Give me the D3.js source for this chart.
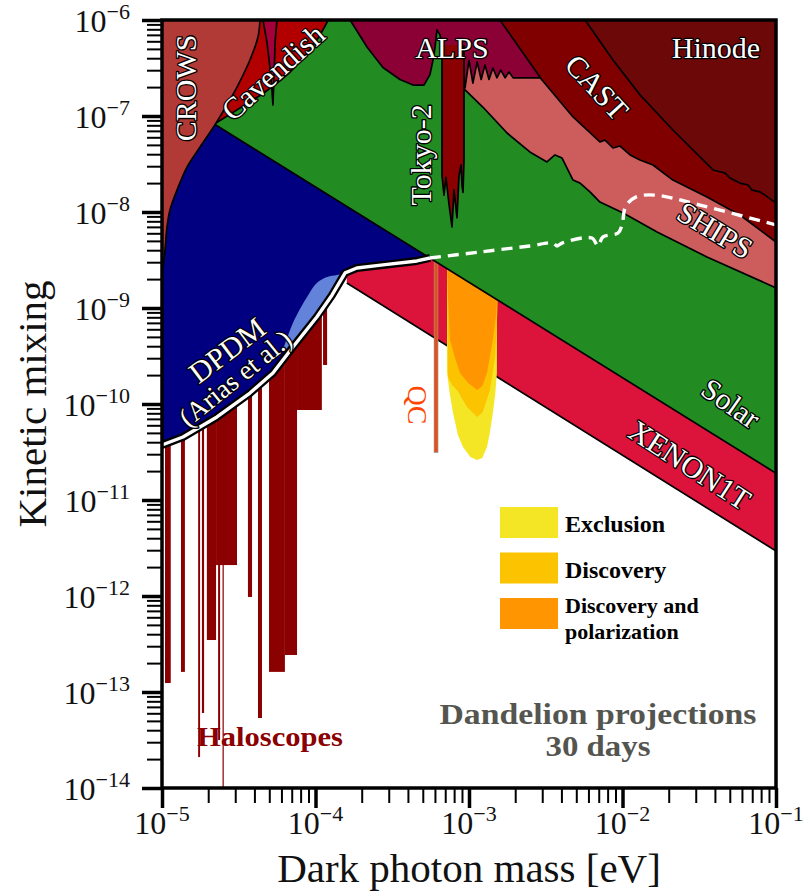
<!DOCTYPE html>
<html><head><meta charset="utf-8">
<script src="https://cdn.jsdelivr.net/npm/d3@7"></script>
<style>
html,body{margin:0;padding:0;background:#fff;}
svg{display:block;}
text{font-family:"Liberation Serif","Times New Roman",serif;}
.lab{fill:#fff;stroke:#000;stroke-width:2.6px;paint-order:stroke;stroke-linejoin:round;}
</style></head><body>
<svg id="chart" width="808" height="895"></svg>
<script>
// ---------------- data (mass [eV], kinetic mixing) ----------------
const solarLimit = [[1e-5,1.8e-7],[1e-1,1.9e-11]];
const xenonLimit = [[1.6e-4,1.82e-9],[1e-1,2.94e-12]];
const dpdmLimit = [[1e-5,3.74e-11],[1.37e-5,4.53e-11],[2.28e-5,7.33e-11],[3.74e-5,1.30e-10],[5.28e-5,2.10e-10],
  [7.13e-5,3.93e-10],[1.02e-4,8.05e-10],[1.28e-4,1.36e-9],[1.56e-4,2.32e-9],[1.86e-4,2.61e-9],[2.75e-4,2.81e-9],
  [4.58e-4,3.09e-9],[5.57e-4,3.32e-9]];
const dpdmProjection = [[5.57e-4,3.32e-9],[1.18e-3,3.83e-9],[2.49e-3,4.43e-9],[3.52e-3,4.75e-9],[3.74e-3,4.43e-9],
  [4.04e-3,4.75e-9],[6.32e-3,5.36e-9],[6.92e-3,4.43e-9],[7.46e-3,5.50e-9],[9.35e-3,6.04e-9],[9.93e-3,7.33e-9],
  [1.05e-2,1.15e-8],[1.22e-2,1.43e-8],[1.63e-2,1.50e-8],[3.20e-2,1.18e-8],[1e-1,7.33e-9]];
const lightBlueEdge = [[6.14e-5,3.65e-10],[7.13e-5,6.98e-10],[8.81e-5,1.30e-9],[1.02e-4,1.82e-9],[1.19e-4,2.10e-9],
  [1.38e-4,2.21e-9],[1.56e-4,2.32e-9]];
const crowsLimit = [[1.015e-5,2.61e-9],[1.046e-5,4.02e-9],[1.078e-5,6.98e-9],[1.127e-5,1.05e-8],[1.252e-5,1.69e-8],
  [1.455e-5,2.94e-8],[1.77e-5,4.75e-8],[2.21e-5,8.05e-8],[2.69e-5,1.36e-7],[3.08e-5,2.0e-7],[3.74e-5,3.83e-7],
  [4.22e-5,6.65e-7],[4.35e-5,1e-6]];
const cavendishLimit = [[2.25e-5,8.45e-8],[3.22e-5,1.21e-7],[4.69e-5,1.78e-7],[6.82e-5,2.87e-7],[8.81e-5,4.53e-7],
  [1.04e-4,6.49e-7],[1.21e-4,1e-6]];
const spikeLimit = [[4.55e-5,1e-6],[4.83e-5,5.8e-7],[5.13e-5,2.6e-7],[5.28e-5,1.3e-7],[5.37e-5,2.6e-7],
  [5.45e-5,5.8e-7],[5.61e-5,1e-6]];
const alpsLimit = [[1.68e-4,1e-6],[2.17e-4,5.2e-7],[2.75e-4,3.2e-7],[3.55e-4,2.4e-7],[4.32e-4,2.1e-7],[5.09e-4,2.1e-7],
  [5.57e-4,2.7e-7],[5.92e-4,4.3e-7],[6.19e-4,7.9e-7],[6.47e-4,7.0e-7],[6.98e-4,3.4e-7],[7.41e-4,1.96e-7],
  [7.87e-4,3.8e-7],[8.35e-4,2.1e-7],[8.87e-4,4.3e-7],[9.42e-4,1.96e-7],[1.00e-3,3.8e-7],[1.06e-3,2.2e-7],
  [1.13e-3,3.65e-7],[1.20e-3,2.4e-7],[1.27e-3,3.4e-7],[1.35e-3,2.4e-7],[1.43e-3,3.16e-7],[1.52e-3,2.5e-7],
  [1.61e-3,3.0e-7],[1.72e-3,2.5e-7],[1.82e-3,2.87e-7],[1.94e-3,2.5e-7],[2.99e-3,2.5e-7],[3.92e-3,2.5e-7]];
const tokyoLimit = [[6.67e-4,5.5e-7],[6.67e-4,2.4e-8],[6.87e-4,1.5e-8],[7.08e-4,2.3e-8],[7.41e-4,1.2e-8],
  [7.75e-4,7.0e-9],[7.98e-4,1.7e-8],[8.35e-4,8.7e-9],[8.61e-4,2.4e-8],[8.87e-4,3.1e-8],[9.0e-4,1.9e-8],
  [9.14e-4,1.6e-8],[9.28e-4,3.5e-8],[9.28e-4,5.5e-7]];
const shipsLimit = [[6.67e-4,3.0e-7],[9.14e-4,1.96e-7],[1.23e-3,1.24e-7],[1.77e-3,6.65e-8],[2.49e-3,4.22e-8],
  [3.22e-3,3.32e-8],[3.63e-3,3.93e-8],[4.04e-3,3.65e-8],[4.76e-3,2.15e-8],[5.29e-3,2.0e-8],[6.14e-3,1.62e-8],
  [7.13e-3,1.27e-8],[1.01e-2,9.77e-9],[1.68e-2,6.19e-9],[3.55e-2,3.40e-9],[1e-1,1.62e-9]];
const castLimit = [[1.59e-3,1e-6],[2.99e-3,2.37e-7],[4.76e-3,9.77e-8],[7.13e-3,5.36e-8],[7.69e-3,5.62e-8],
  [8.67e-3,4.64e-8],[9.63e-3,4.87e-8],[1.12e-2,3.93e-8],[1.30e-2,3.48e-8],[1.58e-2,3.09e-8],[2.13e-2,2.15e-8],
  [3.55e-2,1.43e-8],[5.82e-2,9.31e-9],[1e-1,4.87e-9]];
const hinodeLimit = [[5.70e-3,1e-6],[8.67e-3,3.83e-7],[1.30e-2,1.66e-7],[2.13e-2,7.15e-8],[3.89e-2,2.74e-8],
  [4.65e-2,2.55e-8],[5.01e-2,2.26e-8],[5.82e-2,2.0e-8],[6.57e-2,1.91e-8],[6.98e-2,1.69e-8],[7.87e-2,1.62e-8],
  [8.47e-2,1.50e-8],[1e-1,1.24e-8]];
const exclusionRegion = [[7.19e-4,3.6e-9],[7.19e-4,2.1e-10],[7.52e-4,1.24e-10],[7.87e-4,8.05e-11],[8.47e-4,4.75e-11],
  [9.14e-4,3.57e-11],[1.02e-3,2.81e-11],[1.13e-3,2.61e-11],[1.22e-3,2.74e-11],[1.31e-3,3.57e-11],[1.37e-3,5.11e-11],
  [1.43e-3,8.05e-11],[1.48e-3,1.24e-10],[1.52e-3,2.1e-10],[1.52e-3,6.34e-10],[1.55e-3,3.6e-9]];
const discoveryRegion = [[7.19e-4,3.6e-9],[7.30e-4,1.91e-10],[7.75e-4,1.58e-10],[8.35e-4,1.40e-10],[9.70e-4,9.31e-11],
  [1.13e-3,7.33e-11],[1.23e-3,8.26e-11],[1.37e-3,1.40e-10],[1.48e-3,3.09e-10],[1.52e-3,6.98e-10],[1.55e-3,3.6e-9]];
const polarizationRegion = [[7.19e-4,3.6e-9],[7.30e-4,1.30e-9],[7.52e-4,4.64e-10],[8.11e-4,3.01e-10],[8.73e-4,2.10e-10],
  [9.85e-4,1.66e-10],[1.13e-3,1.40e-10],[1.22e-3,1.54e-10],[1.31e-3,2.10e-10],[1.43e-3,4.64e-10],[1.50e-3,8.45e-10],
  [1.52e-3,1.13e-9],[1.55e-3,3.6e-9]];
const qcMass = 6.1e-4;
const qcEps = [3.1e-11, 3.3e-9];
const haloMin   = [1.046e-5,1.33e-5,1.72e-5,1.82e-5,1.96e-5,2.25e-5,2.32e-5,2.48e-5,3.63e-5,4.22e-5,4.98e-5,6.32e-5,7.58e-5,1.12e-4];
const haloMax   = [1.14e-5,1.41e-5,1.77e-5,1.88e-5,2.25e-5,3.08e-5,2.39e-5,2.52e-5,3.86e-5,4.48e-5,6.32e-5,7.58e-5,1.10e-4,1.19e-4];
const haloDepth = [1.24e-13,1.62e-13,2.10e-14,6.04e-14,3.48e-13,2.10e-12,3.16e-14,1e-14,9.77e-13,5.36e-14,1.62e-13,2.43e-13,8.66e-11,2.55e-10];

const xMajor = [1e-5,1e-4,1e-3,1e-2,1e-1];
const xMajorExp = ["\u22125","\u22124","\u22123","\u22122","\u22121"];
const yMajor = [1e-14,1e-13,1e-12,1e-11,1e-10,1e-9,1e-8,1e-7,1e-6];
const yMajorExp = ["\u221214","\u221213","\u221212","\u221211","\u221210","\u22129","\u22128","\u22127","\u22126"];

const regionLabels = ["CROWS","Cavendish","ALPS","Tokyo-2","CAST","Hinode","SHIPS","Solar","XENON1T","DPDM","(Arias et al.)"];
const regionLabelMass = [1.43e-5,5.28e-5,7.75e-4,4.80e-4,6.82e-3,4.06e-2,4.01e-2,5.09e-2,2.75e-2,2.65e-5,2.99e-5];
const regionLabelEps  = [1.96e-7,2.87e-7,5.23e-7,3.93e-8,2.0e-7,5.23e-7,6.49e-9,1.02e-10,2.32e-11,3.65e-10,1.87e-10];
const regionLabelAngle = [-90,-42,0,-90,47,0,31,35,33,-37,-39];

const legendLabels = [["Exclusion"],["Discovery"],["Discovery and","polarization"]];
const legendColors = ["#F5E625","#FCC400","#FF9500"];

// ---------------- chart ----------------
const svg = d3.select("#chart");
const X0=162, X1=776, Y0=20, Y1=788;
const x = d3.scaleLog().domain([1e-5,1e-1]).range([X0,X1]);
const y = d3.scaleLog().domain([1e-14,1e-6]).range([Y1,Y0]);
const TOP = 3e-6, LEFT = 5e-6;

svg.append("defs").append("clipPath").attr("id","clip")
  .append("rect").attr("x",X0).attr("y",Y0).attr("width",X1-X0).attr("height",Y1-Y0);
const g = svg.append("g").attr("clip-path","url(#clip)");

const lineGen = (curve)=> d3.line().x(p=>x(p[0])).y(p=>y(p[1])).curve(curve||d3.curveLinear);
function regionPath(pts, extra, curve){
  let d = lineGen(curve)(pts);
  extra.forEach(p=>{ d += "L"+x(p[0])+","+y(p[1]); });
  return d+"Z";
}
function fill(pts, extra, color, curve){
  g.append("path").attr("d",regionPath(pts,extra,curve)).attr("fill",color).attr("stroke","none");
}
function edge(pts, curve, w){
  g.append("path").attr("d",lineGen(curve)(pts)).attr("fill","none").attr("stroke","#000")
    .attr("stroke-width",w||1.7).attr("stroke-linejoin","round");
}
const last = a=>a[a.length-1];

// XENON1T
fill(xenonLimit,[[last(xenonLimit)[0],TOP],[xenonLimit[0][0],TOP]],"#DC143C");
edge(xenonLimit);

// Dandelion projections
fill(exclusionRegion,[], legendColors[0]);
fill(discoveryRegion,[], legendColors[1]);
fill(polarizationRegion,[], legendColors[2]);

// QC
g.append("line").attr("x1",x(qcMass)).attr("x2",x(qcMass)).attr("y1",y(qcEps[1])).attr("y2",y(qcEps[0]))
  .attr("stroke","#8a8a8a").attr("stroke-width",4.5);
g.append("line").attr("x1",x(qcMass)).attr("x2",x(qcMass)).attr("y1",y(qcEps[1])).attr("y2",y(qcEps[0])-0.8)
  .attr("stroke","#FF4500").attr("stroke-width",2.6);

// Haloscopes
haloMin.forEach((m,i)=>{
  const x0 = x(m), x1 = x(haloMax[i]);
  const w = Math.max(1.2, x1-x0);
  g.append("rect").attr("x", x0).attr("width", w).attr("y", y(1e-8)).attr("height", y(haloDepth[i])-y(1e-8))
    .attr("fill","#8B0000");
});

// DPDM (blue)
fill(dpdmLimit,[[last(dpdmLimit)[0],TOP],[LEFT,TOP],[LEFT,dpdmLimit[0][1]]],"#000080");
// light blue sliver
const lbLower = dpdmLimit.filter(p=>p[0]>6.2e-5 && p[0]<1.56e-4).reverse();
fill(lightBlueEdge, lbLower, "#6382DA", d3.curveCatmullRom);

// Solar
fill(solarLimit,[[last(solarLimit)[0],TOP],[solarLimit[0][0],TOP]],"#228B22");
edge(solarLimit);

// SHIPS
fill(shipsLimit,[[last(shipsLimit)[0],TOP],[shipsLimit[0][0],TOP]],"#CD5C5C");
edge(shipsLimit);

// ALPS
fill(alpsLimit,[[last(alpsLimit)[0],TOP],[alpsLimit[0][0],TOP]],"#8B0035");
edge(alpsLimit);

// Tokyo-2
fill(tokyoLimit,[],"#8B0000");
edge(tokyoLimit);

// CAST
fill(castLimit,[[last(castLimit)[0],TOP],[castLimit[0][0],TOP]],"#800000");
edge(castLimit);

// Hinode
fill(hinodeLimit,[[last(hinodeLimit)[0],TOP],[hinodeLimit[0][0],TOP]],"#6C0808");
edge(hinodeLimit);

// Cavendish
fill(cavendishLimit,[[last(cavendishLimit)[0],TOP],[LEFT,TOP],[LEFT,cavendishLimit[0][1]]],"#B20000",d3.curveCatmullRom);
edge(cavendishLimit, d3.curveCatmullRom);
fill(spikeLimit,[[last(spikeLimit)[0],TOP],[spikeLimit[0][0],TOP]],"#A5003A");
edge(spikeLimit);

// CROWS
fill(crowsLimit,[[last(crowsLimit)[0],TOP],[LEFT,TOP],[LEFT,crowsLimit[0][1]]],"#B23A36",d3.curveCatmullRom);
edge(crowsLimit, d3.curveCatmullRom);

// DPDM thick limit line
g.append("path").attr("d",lineGen()(dpdmLimit)).attr("fill","none").attr("stroke","#000")
  .attr("stroke-width",8).attr("stroke-linejoin","round");
g.append("path").attr("d",lineGen()(dpdmLimit)).attr("fill","none").attr("stroke","#fff")
  .attr("stroke-width",3.4).attr("stroke-linejoin","round");
// projection dashed
g.append("path").attr("d",lineGen(d3.curveCatmullRom)(dpdmProjection)).attr("fill","none").attr("stroke","#fff")
  .attr("stroke-width",3.4).attr("stroke-dasharray","11,7");

// region labels
regionLabels.forEach((t,i)=>{
  const px = x(regionLabelMass[i]), py = y(regionLabelEps[i]);
  svg.append("text").attr("class","lab")
    .attr("transform",`translate(${px},${py}) rotate(${regionLabelAngle[i]})`)
    .attr("text-anchor","middle").attr("dy","0.35em")
    .attr("font-size", t.startsWith("(") ? 27 : 30)
    .text(t);
});
// QC label
svg.append("text").attr("transform",`translate(${x(4.65e-4)},${y(9.77e-11)}) rotate(90)`)
  .attr("text-anchor","middle").attr("dy","0.35em").attr("font-size",28).attr("fill","#FF4500").text("QC");
// Haloscopes label
svg.append("text").attr("x",x(5.05e-5)).attr("y",y(3.4e-14)).attr("dy","0.35em").attr("text-anchor","middle")
  .attr("font-size",27).attr("font-weight","bold").attr("fill","#8B0000")
  .attr("textLength",146).attr("lengthAdjust","spacingAndGlyphs").text("Haloscopes");

// Legend
legendLabels.forEach((lines,i)=>{
  const ly = 507 + i*45.5;
  svg.append("rect").attr("x",500).attr("y",ly).attr("width",58).attr("height",31).attr("fill",legendColors[i]);
  const t = svg.append("text").attr("x",565).attr("y",ly+25-(lines.length>1?10:0)).attr("font-size",lines.length>1?22:24)
    .attr("font-weight","bold").attr("fill","#000");
  lines.forEach((s,j)=>{
    t.append("tspan").attr("x",565).attr("dy", j===0 ? 0 : 26).text(s);
  });
});
svg.append("text").attr("x",598).attr("y",724).attr("text-anchor","middle").attr("font-size",29)
  .attr("font-weight","bold").attr("fill","#555550").attr("textLength",317).attr("lengthAdjust","spacingAndGlyphs")
  .text("Dandelion projections");
svg.append("text").attr("x",598).attr("y",756).attr("text-anchor","middle").attr("font-size",29)
  .attr("font-weight","bold").attr("fill","#555550").attr("textLength",105).attr("lengthAdjust","spacingAndGlyphs")
  .text("30 days");

// Frame
svg.append("rect").attr("x",X0).attr("y",Y0).attr("width",X1-X0).attr("height",Y1-Y0)
  .attr("fill","none").attr("stroke","#000").attr("stroke-width",3.5);

// Ticks
const isMajor = v=>Math.abs(Math.log10(v)-Math.round(Math.log10(v)))<1e-6;
const xMinor = x.ticks().filter(v=>!isMajor(v));
const yMinor = y.ticks().filter(v=>!isMajor(v));
function styleAxis(sel,w){ sel.select(".domain").remove(); sel.selectAll("line").attr("stroke","#000").attr("stroke-width",w); sel.selectAll("text").remove(); }
svg.append("g").attr("transform",`translate(0,${Y1})`).call(d3.axisBottom(x).tickValues(xMinor).tickSize(15).tickFormat("")).call(s=>styleAxis(s,2));
svg.append("g").attr("transform",`translate(0,${Y1})`).call(d3.axisBottom(x).tickValues(xMajor).tickSize(20).tickFormat("")).call(s=>styleAxis(s,3.5));
svg.append("g").attr("transform",`translate(${X0},0)`).call(d3.axisLeft(y).tickValues(yMinor).tickSize(15).tickFormat("")).call(s=>styleAxis(s,2));
svg.append("g").attr("transform",`translate(${X0},0)`).call(d3.axisLeft(y).tickValues(yMajor).tickSize(20).tickFormat("")).call(s=>styleAxis(s,3.5));

// Tick labels
xMajor.forEach((v,i)=>{
  const t = svg.append("text").attr("x",x(v)).attr("y",834).attr("text-anchor","middle").attr("font-size",32).attr("fill","#111");
  t.append("tspan").text("10");
  t.append("tspan").attr("font-size",22).attr("dy",-13).text(xMajorExp[i]);
});
yMajor.forEach((v,i)=>{
  const t = svg.append("text").attr("x",130).attr("y",y(v)+12).attr("text-anchor","end").attr("font-size",32).attr("fill","#111");
  t.append("tspan").text("10");
  t.append("tspan").attr("font-size",22).attr("dy",-13).text(yMajorExp[i]);
});

// Axis titles
svg.append("text").attr("x",(X0+X1)/2).attr("y",882).attr("text-anchor","middle").attr("font-size",41).attr("fill","#111")
  .text("Dark photon mass [eV]");
svg.append("text").attr("transform",`translate(46,${(Y0+Y1)/2}) rotate(-90)`).attr("text-anchor","middle")
  .attr("font-size",41).attr("fill","#111").text("Kinetic mixing");
</script></body></html>
